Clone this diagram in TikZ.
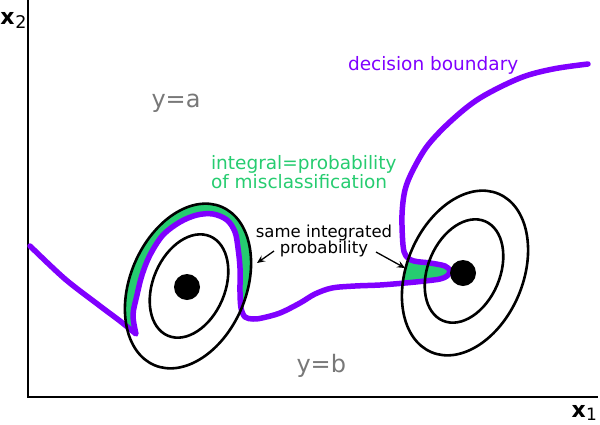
\documentclass[tikz,border=0pt]{standalone}
\usepackage{fontspec}
\setmainfont{DejaVu Sans}
\usetikzlibrary{arrows.meta}
\definecolor{bviolet}{RGB}{128,0,255}
\definecolor{mgreen}{RGB}{38,204,112}
\definecolor{lblgray}{RGB}{120,120,120}
\def\bpath{plot[smooth,tension=0.5] coordinates {(30,246) (65,279) (100,306) (120,321) (136,334)}
 -- plot[smooth,tension=0.55] coordinates {(136,334) (133,315) (137,295) (142,275) (150,255) (163,235) (180,222) (197,215) (213,214) (227,220) (235,232) (238,248) (240,268) (240,292) (241,308) (245,317) (253,319) (262,318) (280,313) (300,303) (315,294) (332,288) (355,286) (380,285) (405,283) (425,281) (440,279) (447,276) (450,271) (445,266) (430,263) (414,261) (406,256) (403,245) (402,215) (405,190) (413,170) (428,145) (452,120) (480,98) (520,78) (553,69) (588,64)}}
\begin{document}
\begin{tikzpicture}[x=1pt,y=-1pt,
  bound/.style={draw=bviolet, line width=5.5pt, line join=round, line cap=round},
  contour/.style={draw=black, line width=2.6pt},
  lbl/.style={anchor=base west, inner sep=0pt, outer sep=0pt},
  ptr/.style={draw=black, line width=1.3pt, -{Stealth[length=8pt,width=7pt,inset=3pt]}},
  axis/.style={draw=black, line width=2pt}]
\useasboundingbox (0,0) rectangle (600,424);
% axes
\coordinate (ytop) at (28,0);
\coordinate (orig) at (28,397);
\coordinate (xend) at (598,397);
\draw[axis] (ytop) -- (orig) -- (xend);
\node[lbl] (x2) at (0.5,24) {\fontsize{22}{22}\selectfont\bfseries x};
\node[lbl] (x2s) at (15.5,28) {\fontsize{17.5}{17.5}\selectfont 2};
\node[lbl] (x1) at (571.5,417.5) {\fontsize{22}{22}\selectfont\bfseries x};
\node[lbl] (x1s) at (586,420.5) {\fontsize{17}{17}\selectfont 1};
% green regions
\begin{scope}
\clip[rotate around={67:(188,286)}] (188,286) ellipse [x radius=86, y radius=58];
\fill[mgreen] \bpath -- (600,0) -- (0,0) -- cycle;
\end{scope}
\begin{scope}
\clip[rotate around={67:(465,273)}] (465,273) ellipse [x radius=86, y radius=58];
\fill[mgreen] \bpath -- (600,0) -- (0,0) -- cycle;
\end{scope}
% decision boundary
\draw[bound] \bpath;
% contours
\draw[contour, rotate around={67:(188,286)}] (188,286) ellipse [x radius=86, y radius=58];
\draw[contour, rotate around={67:(189,286)}] (189,286) ellipse [x radius=54, y radius=36];
\draw[contour, rotate around={67:(465,273)}] (465,273) ellipse [x radius=86, y radius=58];
\draw[contour, rotate around={67:(464,271)}] (464,271) ellipse [x radius=54, y radius=36];
\fill[black] (187,287) circle [radius=13];
\fill[black] (463,273) circle [radius=13];
% labels
\node[lbl, text=bviolet] (db) at (348,70) {\fontsize{18.5}{18.5}\selectfont decision boundary};
\node[lbl, text=lblgray] (ya) at (151.5,107) {\fontsize{24}{24}\selectfont y=a};
\node[lbl, text=lblgray] (yb) at (296.5,372) {\fontsize{24}{24}\selectfont y=b};
\node[lbl, text=mgreen] (ig1) at (211,169) {\fontsize{18.5}{18.5}\selectfont integral=probability};
\node[lbl, text=mgreen] (ig2) at (211,188) {\fontsize{18.5}{18.5}\selectfont of misclassification};
\node[anchor=base, inner sep=0pt] (sp1) at (324,237) {\fontsize{16.5}{16.5}\selectfont same integrated};
\node[anchor=base, inner sep=0pt] (sp2) at (324,253) {\fontsize{16.5}{16.5}\selectfont probability};
% pointers
\coordinate (la) at (274,251);
\coordinate (lh) at (257,263);
\coordinate (ra) at (376,252);
\coordinate (rh) at (405,268);
\draw[ptr] (la) -- (lh);
\draw[ptr] (ra) -- (rh);
\end{tikzpicture}
\end{document}
